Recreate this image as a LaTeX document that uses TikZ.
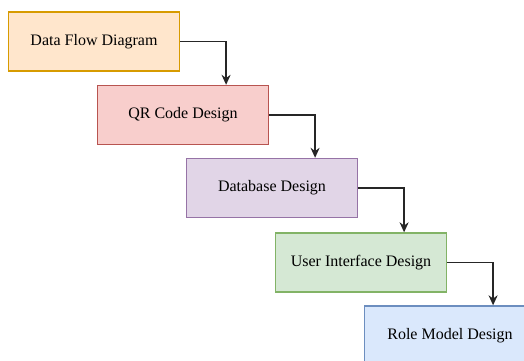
\documentclass[tikz,border=0pt]{standalone}
\usepackage{fontspec}
\setmainfont{Liberation Serif}
\usetikzlibrary{arrows.meta,positioning,calc}
\definecolor{dfdfill}{HTML}{FFE6CC}\definecolor{dfdline}{HTML}{D79B00}
\definecolor{qrfill}{HTML}{F8CECC}\definecolor{qrline}{HTML}{B85450}
\definecolor{dbfill}{HTML}{E1D5E7}\definecolor{dbline}{HTML}{9673A6}
\definecolor{uifill}{HTML}{D5E8D4}\definecolor{uiline}{HTML}{82B366}
\definecolor{rmfill}{HTML}{DAE8FC}\definecolor{rmline}{HTML}{6C8EBF}
\tikzset{
  phase/.style={draw, line width=1.4pt, minimum height=59pt, minimum width=171pt, align=center, font=\fontsize{16}{19}\selectfont},
  dfdbox/.style={phase, draw=dfdline, fill=dfdfill},
  qrbox/.style={phase, draw=qrline, fill=qrfill},
  dbbox/.style={phase, draw=dbline, fill=dbfill},
  uibox/.style={phase, draw=uiline, fill=uifill},
  rmbox/.style={phase, draw=rmline, fill=rmfill},
  line/.style={-{Stealth[length=10pt,width=9pt]}, line width=1.6pt, black!85}
}

\begin{document}
\begin{tikzpicture}[x=1pt, y=-1pt]
  \path[use as bounding box] (0,0) rectangle (524,360);
  \clip (0,0) rectangle (524,360);

  \node[dfdbox] (dfd) at (94,41.5) {Data Flow Diagram};
  \node[qrbox] (qrcode) at (183,115) {QR Code Design};
  \node[dbbox] (database) at (272,188) {Database Design};
  \node[uibox] (ui) at (361,262.5) {User Interface Design};
  \node[rmbox] (rolemodel) at (450,335.5) {Role Model Design};

  \draw[line] (dfd.east) -| ($(qrcode.north)!0.5!(qrcode.north east)$);
  \draw[line] (qrcode.east) -| ($(database.north)!0.5!(database.north east)$);
  \draw[line] (database.east) -| ($(ui.north)!0.5!(ui.north east)$);
  \draw[line] (ui.east) -| ($(rolemodel.north)!0.5!(rolemodel.north east)$);
\end{tikzpicture}
\end{document}
